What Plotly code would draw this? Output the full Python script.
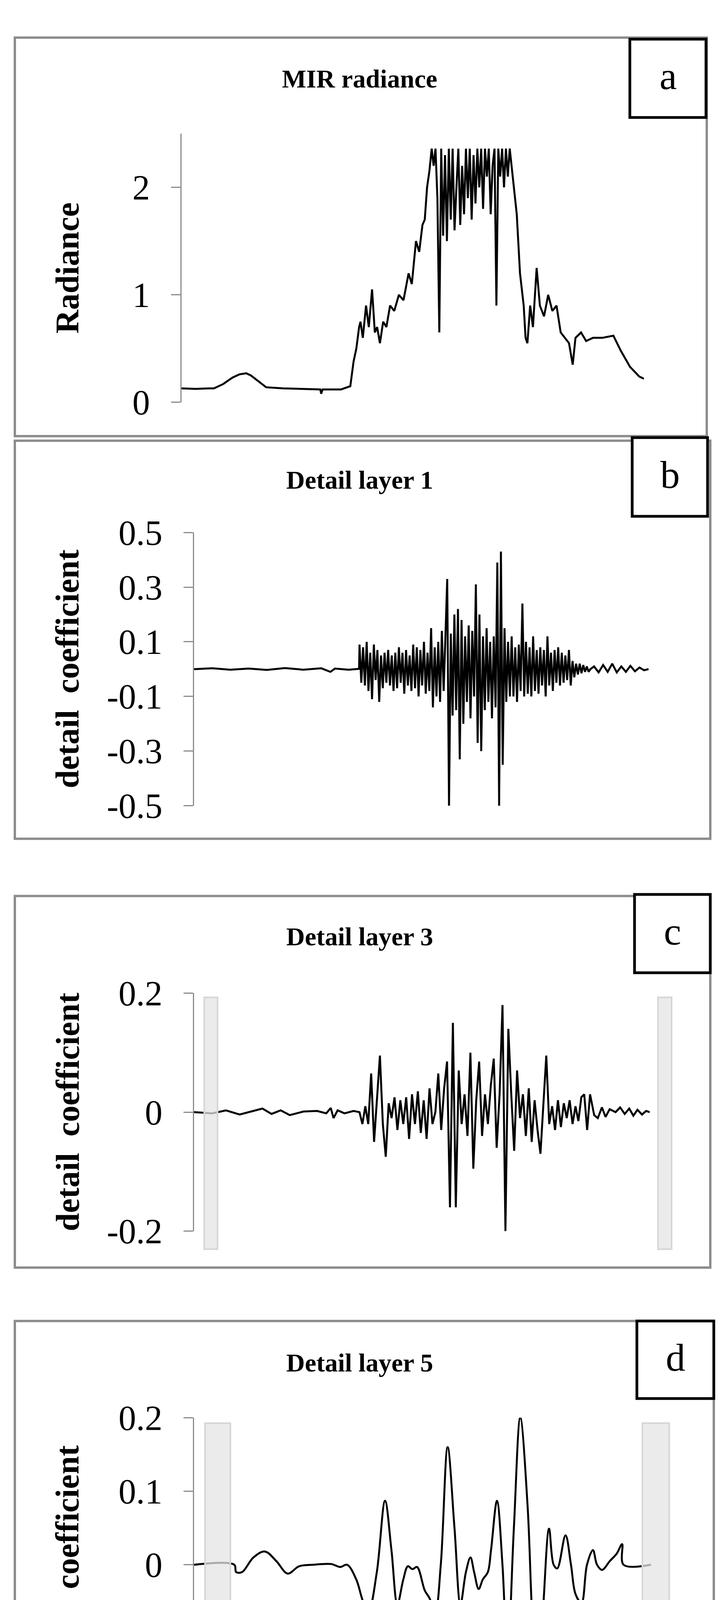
import numpy as np
import plotly.graph_objects as go

W, H = 1849, 5804
titles = ["MIR radiance", "Detail layer 1", "Detail layer 3", "Detail layer 5", "Smoothing layer"]
letters = ["a", "b", "c", "d", "e"]
ytitles = ["Radiance", "detail  coefficient", "detail  coefficient", "detail  coefficient", "residualcoefficient"]
yticks = [[0, 1, 2], [-0.5, -0.3, -0.1, 0.1, 0.3, 0.5], [-0.2, 0, 0.2], [-0.2, -0.1, 0, 0.1, 0.2], [0, 0.5, 1, 1.5, 2]]
yticktext = [["0", "1", "2"], ["-0.5", "-0.3", "-0.1", "0.1", "0.3", "0.5"], ["-0.2", "0", "0.2"],
             ["-0.2", "-0.1", "0", "0.1", "0.2"], ["0", "0.5", "1", "1.5", "2"]]
yranges = [[0, 2.5], [-0.5, 0.5], [-0.2, 0.2], [-0.2, 0.2], [0, 2]]

# Panel a: radiance (x in % of sample span)
a_lead = [(0,0.13),(3,0.125),(6,0.13),(7,0.13),(9,0.17),(11,0.23),(12.5,0.26),(14,0.27),(15,0.25),(16.5,0.2),
          (18.3,0.14),(22,0.13),(26,0.125),(30,0.12),(30.2,0.08),(30.5,0.12),(34.5,0.12),(36.5,0.15),(37.2,0.38),
          (37.8,0.5),(38.4,0.7),(38.7,0.75),(39.2,0.6),(39.9,0.9),(40.5,0.7),(41.2,1.05),(41.8,0.65),(42.3,0.7),
          (42.9,0.55),(43.6,0.75),(44.3,0.7),(45.1,0.9),(46,0.85),(47,1.0),(48,0.95),(49.1,1.2),(49.8,1.1),
          (50.7,1.5),(51.4,1.4),(52.1,1.65),(52.6,1.7),(53.1,2.0),(53.6,2.15)]
a_noise = [2.36,2.2,2.36,1.9,0.65,2.36,1.55,2.3,1.5,2.36,1.7,2.36,1.6,2.0,2.36,1.65,2.2,1.75,2.36,1.9,2.36,1.7,
           2.3,1.85,2.36,2.0,2.36,1.8,2.36,2.1,2.36,1.75,2.2,2.36,0.9,2.36,2.1,2.36,2.0,2.36,2.1,2.36,2.2,2.05]
a_noise_span = (54.1, 71.8)
a_tail = [(72.5,1.75),(73.2,1.2),(74,0.9),(74.4,0.6),(74.8,0.55),(75.4,0.9),(76,0.7),(76.8,1.25),(77.5,0.9),
          (78.4,0.8),(79.3,1.0),(80.2,0.85),(81.1,0.9),(82,0.65),(82.9,0.6),(83.8,0.55),(84.6,0.35),(85.2,0.6),
          (86.4,0.65),(87.5,0.57),(89,0.6),(91,0.6),(93.4,0.62),(95,0.48),(97,0.33),(99,0.24),(100,0.22)]

# Panel b: detail layer 1
b_lead = [(0,0),(4,0.003),(8,-0.002),(12,0.002),(16,-0.003),(20,0.004),(24,-0.002),(28,0.003),(30,-0.01),(31,0.002),(34,-0.002),(36.3,0.001)]
b_active = [0.09,-0.05,0.08,-0.06,0.1,-0.08,0.06,-0.11,0.09,-0.04,
            0.07,-0.12,0.05,-0.07,0.06,-0.05,0.07,-0.06,0.05,-0.08,
            0.06,-0.07,0.08,-0.05,0.06,-0.09,0.07,-0.06,0.05,-0.08,
            0.09,-0.07,0.08,-0.1,0.07,-0.06,0.1,-0.09,0.06,-0.08,
            0.15,-0.14,0.08,-0.1,0.1,-0.12,0.14,-0.08,0.12,0.33,
            -0.5,0.13,-0.17,0.2,-0.15,0.22,-0.33,0.18,-0.2,0.12,
            -0.12,0.16,-0.18,0.14,-0.1,0.31,-0.27,0.2,-0.3,0.12,
            -0.15,0.15,-0.12,0.1,-0.18,0.12,-0.14,0.39,-0.5,0.43,
            -0.35,0.15,-0.12,0.1,-0.1,0.12,-0.1,0.08,-0.12,0.09,
            -0.08,0.24,-0.1,0.1,-0.09,0.08,-0.1,0.12,-0.08,0.07,
            -0.09,0.08,-0.06,0.07,-0.1,0.12,-0.06,0.06,-0.08,0.07,
            -0.05,0.08,-0.06,0.06,-0.05,0.05,-0.04,0.07,-0.06,0.03,
            -0.03,0.02,-0.02,0.02,-0.015,0.015,-0.01,0.01,-0.01,0.0]
b_active_span = (36.4, 87.2)
b_tail = [(88,0.01),(89,-0.012),(90,0.015),(91,-0.01),(92,0.02),(93,-0.012),(94,0.01),(95,-0.01),(96,0.012),(97,-0.008),(98,0.006),(99,-0.004),(100,0)]

# Panel c: detail layer 3
c_lead = [(0,0),(4,-0.002),(7,0.003),(10,-0.004),(13,0.002),(15,0.006),(17,-0.003),(19,0.003),(21,-0.005),(24,0.001),
          (27,0.002),(29,-0.002),(30,0.007),(30.6,-0.01),(31.5,0.003),(33,-0.002),(35,0.002),(36.3,0)]
c_active = [0.0,-0.02,0.01,-0.02,0.065,-0.05,0.02,0.095,-0.02,-0.075,
            0.015,-0.01,0.025,-0.03,0.02,-0.02,0.025,-0.045,0.03,-0.02,
            0.035,-0.035,0.02,-0.045,0.04,-0.02,0.0,0.065,-0.03,0.04,
            0.085,-0.16,0.15,-0.16,0.07,-0.02,0.03,-0.04,0.1,-0.095,
            0.02,0.085,-0.04,0.03,-0.02,0.045,0.09,-0.06,0.03,0.18,
            -0.2,0.14,0.03,-0.065,0.07,-0.01,0.03,-0.04,0.04,-0.05,
            0.02,-0.03,-0.07,0.02,0.095,-0.02,0.01,-0.03,0.02,-0.025,
            0.015,-0.01,0.02,-0.02,0.01,-0.015,0.025,0.03,-0.03,0.03]
c_active_span = (36.3, 86.9)
c_tail = [(87.8,-0.005),(88.6,-0.01),(89.5,0.008),(90.3,-0.008),(91.2,0.005),(92.5,0.0),(93.5,0.008),(94.5,-0.003),
          (95.5,0.006),(96.4,-0.006),(97.3,0.004),(98.3,-0.004),(99.2,0.002),(100,0)]

# Panel d: detail layer 5
d_pts = [(0,0),(8.8,0),(9.2,-0.01),(10.5,-0.01),(13,0.01),(15.5,0.018),(18,0.005),(20.5,-0.012),(23,-0.002),(26,0),
         (30,0.001),(32,-0.003),(33.5,0),(35.5,-0.02),(37,-0.05),(38.2,-0.063),(40,-0.01),(41.8,0.087),(43.2,0.02),
         (44.5,-0.054),(45.8,-0.02),(46.8,-0.002),(47.8,-0.006),(48.8,-0.003),(50.5,-0.035),(51.5,-0.045),(52.8,-0.063),
         (54,0.0),(55.5,0.16),(57,0.05),(58.3,-0.054),(59.5,-0.01),(60.5,0.01),(61.3,-0.01),(62.3,-0.033),(63.2,-0.02),
         (64.3,-0.01),(65,0.02),(66.3,0.087),(67.5,0.0),(68.6,-0.127),(70,0.05),(71.4,0.2),(73,0.08),(74,-0.07),
         (75.3,-0.197),(76.5,-0.05),(77.7,0.049),(78.7,0.0),(79.5,-0.005),(81.3,0.04),(82.5,0.0),(83.5,-0.04),
         (84.8,-0.052),(86,0.0),(87.3,0.02),(88.2,0.0),(89.3,-0.007),(91,0.005),(92.5,0.015),(93.7,0.028),(94,0),(100,0)]

# Panel e: smoothing layer
e_pts = [(0,0),(14.6,0),(14.9,0.16),(19.2,0.16),(23.1,0.155),(27,0.16),(29.9,0.18),(32.8,0.25),(36.7,0.4),(40.6,0.62),
         (44.5,0.95),(48.3,1.32),(52.2,1.62),(56.1,1.8),(60,1.88),(62.9,1.89),(65.8,1.85),(69.7,1.7),(73.6,1.45),
         (77.5,1.2),(81.4,0.97),(82.3,0.85),(85.2,0.7),(87.7,0.61),(88,0),(100,0)]

def build(lead, active, span, tail):
    xs = [p[0] for p in lead] + list(np.linspace(span[0], span[1], len(active))) + [p[0] for p in tail]
    ys = [p[1] for p in lead] + list(active) + [p[1] for p in tail]
    return xs, ys

series = [
    build(a_lead, a_noise, a_noise_span, a_tail),
    build(b_lead, b_active, b_active_span, b_tail),
    build(c_lead, c_active, c_active_span, c_tail),
    ([p[0] for p in d_pts], [p[1] for p in d_pts]),
    ([p[0] for p in e_pts], [p[1] for p in e_pts]),
]
shapes_line = ["linear", "linear", "linear", "spline", "linear"]

# layout geometry (pixels)
frames = [(30, 40, 1802, 1078), (30, 1090, 1811, 2127), (30, 2276, 1811, 3244), (30, 3383, 1820, 4496), (30, 4638, 1826, 5774)]
boxes = [(1605, 44, 1800, 248), (1611, 1082, 1804, 1287), (1617, 2272, 1811, 2476), (1623, 3383, 1820, 3585), (1629, 4638, 1826, 4838)]
title_y = [147, 1192, 2382, 3492, 4746]
xspan = [(457, 1641), (489, 1653), (489, 1656), (489, 1659), (463, 1661)]
yspan = [(990, 290), (2041, 1329), (3149, 2529), (4401, 3635), (5680, 4888)]
grey = {2: [(515, 2540, 549, 3196), (1677, 2540, 1712, 3196)],
        3: [(517, 3649, 582, 4486), (1637, 3649, 1706, 4486)],
        4: [(489, 4900, 620, 5738), (1557, 4900, 1709, 5738)]}

px = lambda v: v / W
py = lambda v: 1 - v / H
font = "Liberation Serif"

fig = go.Figure()
shapes, annots = [], []
for i in range(5):
    sfx = "" if i == 0 else str(i + 1)
    xs, ys = series[i]
    fig.add_trace(go.Scatter(x=xs, y=ys, mode="lines", line=dict(color="black", width=5, shape=shapes_line[i]),
                             xaxis="x" + sfx, yaxis="y" + sfx, showlegend=False, hoverinfo="skip"))
    fig.layout["xaxis" + sfx] = dict(domain=[px(xspan[i][0]), px(xspan[i][1])], range=[0, 100], visible=False,
                                     anchor="y" + sfx)
    fig.layout["yaxis" + sfx] = dict(domain=[py(yspan[i][0]), py(yspan[i][1])], range=yranges[i], anchor="x" + sfx,
                                     tickvals=yticks[i], ticktext=yticktext[i], showgrid=False, zeroline=False,
                                     showline=True, linecolor="#8c8c8c", linewidth=3, ticks="outside", ticklen=24,
                                     tickwidth=3, tickcolor="#8c8c8c", ticklabelstandoff=36,
                                     tickfont=dict(family=font, size=90, color="black"))
    x0, y0, x1, y1 = frames[i]
    shapes.append(dict(type="rect", xref="paper", yref="paper", x0=px(x0), x1=px(x1), y0=py(y1), y1=py(y0),
                       line=dict(color="#8c8c8c", width=6)))
    for (gx0, gy0, gx1, gy1) in grey.get(i, []):
        shapes.append(dict(type="rect", xref="paper", yref="paper", x0=px(gx0), x1=px(gx1), y0=py(gy1), y1=py(gy0),
                           fillcolor="rgba(228,228,228,0.75)", line=dict(color="#d6d6d6", width=4), layer="above"))
    bx0, by0, bx1, by1 = boxes[i]
    shapes.append(dict(type="rect", xref="paper", yref="paper", x0=px(bx0), x1=px(bx1), y0=py(by1), y1=py(by0),
                       fillcolor="white", line=dict(color="black", width=7), layer="above"))
    annots.append(dict(text=letters[i], x=px((bx0 + bx1) / 2), y=py((by0 + by1) / 2 - 6), xref="paper", yref="paper",
                       xanchor="center", yanchor="middle", showarrow=False,
                       font=dict(family=font, size=100, color="black")))
    annots.append(dict(text="<b>" + titles[i] + "</b>", x=px(913), y=py(title_y[i]), xref="paper", yref="paper",
                       xanchor="center", yanchor="middle", showarrow=False,
                       font=dict(family=font, size=66, color="black")))
    annots.append(dict(text="<b>" + ytitles[i] + "</b>", x=px(165), y=py((yspan[i][0] + yspan[i][1]) / 2),
                       xref="paper", yref="paper", xanchor="center", yanchor="middle", showarrow=False, textangle=-90,
                       font=dict(family=font, size=84, color="black")))

fig.update_layout(width=W, height=H, margin=dict(l=0, r=0, t=0, b=0), autosize=False,
                  paper_bgcolor="white", plot_bgcolor="white", shapes=shapes, annotations=annots)
fig.write_html("out.html")
